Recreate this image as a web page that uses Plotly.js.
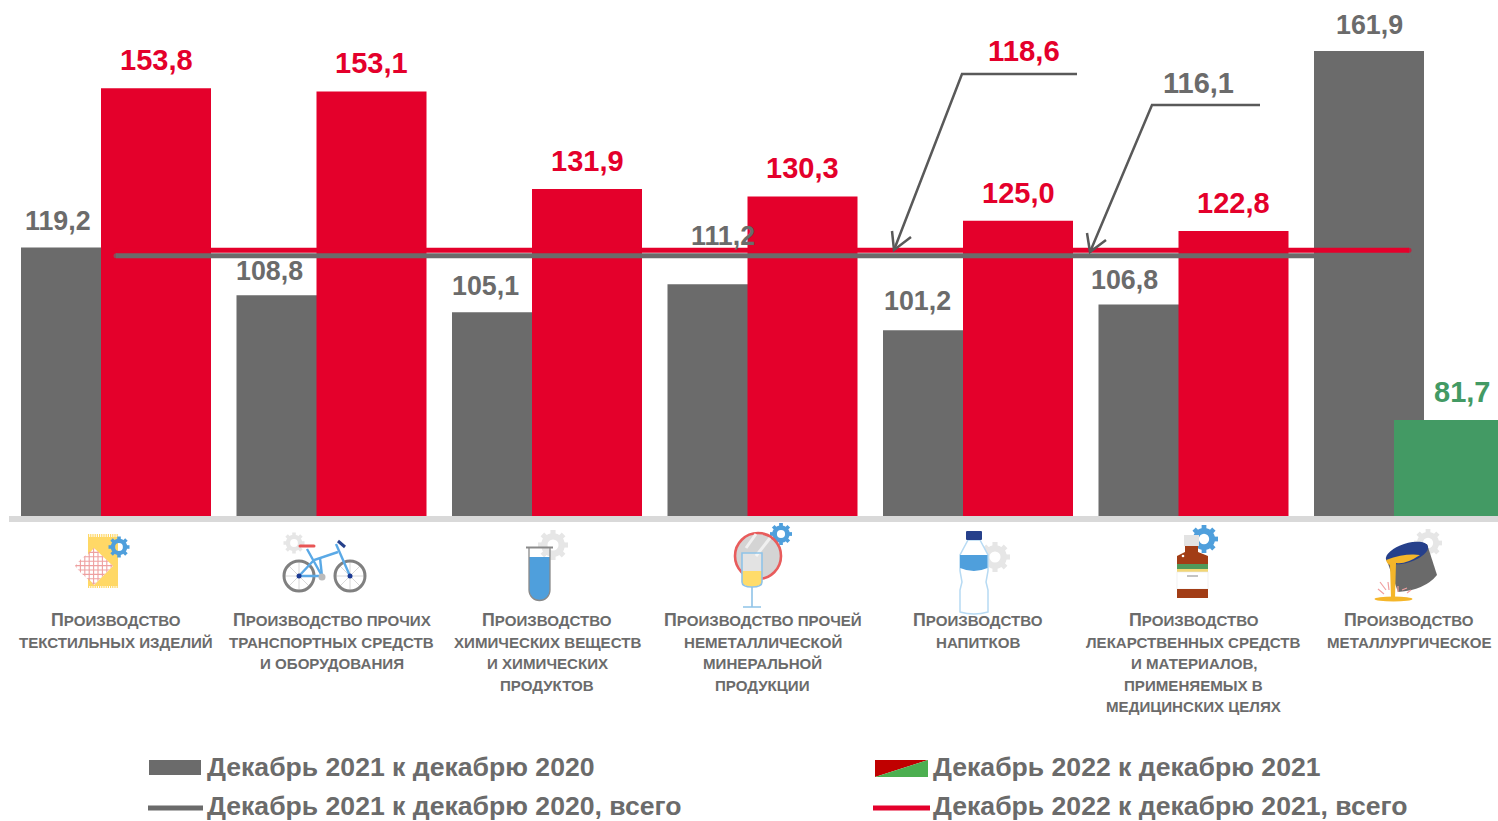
<!DOCTYPE html>
<html><head><meta charset="utf-8">
<script src="https://cdn.plot.ly/plotly-3.0.1.min.js"></script>
<style>html,body{margin:0;padding:0;background:#fff;overflow:hidden}#c{width:1498px;height:821px}</style>
</head><body><div id="c"></div>
<script>
var categoryLines = [
  ["Производство","ТЕКСТИЛЬНЫХ ИЗДЕЛИЙ"],
  ["Производство прочих","ТРАНСПОРТНЫХ СРЕДСТВ","И ОБОРУДОВАНИЯ"],
  ["Производство","ХИМИЧЕСКИХ ВЕЩЕСТВ","И ХИМИЧЕСКИХ","ПРОДУКТОВ"],
  ["Производство прочей","НЕМЕТАЛЛИЧЕСКОЙ","МИНЕРАЛЬНОЙ","ПРОДУКЦИИ"],
  ["Производство","НАПИТКОВ"],
  ["Производство","ЛЕКАРСТВЕННЫХ СРЕДСТВ","И МАТЕРИАЛОВ,","ПРИМЕНЯЕМЫХ В","МЕДИЦИНСКИХ ЦЕЛЯХ"],
  ["Производство","МЕТАЛЛУРГИЧЕСКОЕ"]
];
var categories = [0,1,2,3,4,5,6];
var values2021 = [119.2,108.8,105.1,111.2,101.2,106.8,161.9];
var values2022 = [153.8,153.1,131.9,130.3,125.0,122.8,81.7];
var total2021Label = 116.1, total2022Label = 118.6;
var total2021Drawn = [117.4,117.4,117.4,117.4,117.4,117.4,117.4];
var total2022Drawn = [118.6,118.6,118.6,118.6,118.6,118.6,118.6];
var legendNames = ["Декабрь 2021 к декабрю 2020","Декабрь 2022 к декабрю 2021","Декабрь 2021 к декабрю 2020, всего","Декабрь 2022 к декабрю 2021, всего"];

var GRAY="#6b6b6b", RED="#e4002b", GREEN="#439a64", TXT="#6b6b6b", FONT='"Liberation Sans",Arial,sans-serif';
var W=1498,H=821,BASE=516;
var PX=function(p){return p/W}, PY=function(p){return 1-p/H};
var fmt=function(v){return v.toFixed(1).replace(".",",")};
var capSizes=[5,0,0,0,0,0,5];

var traces=[
 {type:"bar",x:categories,y:values2021,width:110/215.5,offset:-95/215.5,marker:{color:GRAY,line:{width:0}},hoverinfo:"skip",name:legendNames[0]},
 {type:"bar",x:categories,y:values2022,width:110/215.5,offset:-15/215.5,
  marker:{color:values2022.map(function(v){return v<100?GREEN:RED}),line:{width:0}},hoverinfo:"skip",name:legendNames[1]},
 {type:"scatter",mode:"lines+markers",x:categories,y:total2022Drawn,line:{color:RED,width:5},marker:{size:capSizes,color:RED,line:{width:0}},hoverinfo:"skip",name:legendNames[3]},
 {type:"scatter",mode:"lines+markers",x:categories,y:total2021Drawn,line:{color:GRAY,width:5},marker:{size:capSizes,color:GRAY,line:{width:0}},hoverinfo:"skip",name:legendNames[2]}
];

var ann=[];
function label(x,y,t,c,s,xs,ys){ann.push({xref:"x",yref:"y",x:x,y:y,text:"<b>"+t+"</b>",showarrow:false,xanchor:"center",yanchor:"middle",xshift:xs,yshift:ys,borderpad:0,font:{family:FONT,size:s,color:c}});}
var grayShiftX=[-58,-62,-62,-40,-61,-69,-40];
var grayShiftY=[27,24,26,48,29,25,26];
categories.forEach(function(c,i){
  label(c,values2021[i],fmt(values2021[i]),TXT,26.8,grayShiftX[i],grayShiftY[i]);
  label(c,values2022[i],fmt(values2022[i]),values2022[i]<100?GREEN:RED,29,i==6?53:40,i==1?29:28);
});
function pxText(x,y,t,c,s,anchor){ann.push({xref:"paper",yref:"paper",x:PX(x),y:PY(y),text:t,showarrow:false,xanchor:anchor||"center",yanchor:"middle",borderpad:0,font:{family:FONT,size:s,color:c}});}
pxText(1024,51,"<b>"+fmt(total2022Label)+"</b>",RED,29.3);
pxText(1198,83,"<b>"+fmt(total2021Label)+"</b>",TXT,29);
var lineY=[620,642,663,685,706];
categoryLines.forEach(function(lines,i){
  lines.forEach(function(l,j){
    var t=j==0?'<span style="font-size:17.8px">П</span>'+l.slice(1).toUpperCase():l;
    ann.push({xref:"x",yref:"paper",x:categories[i],y:PY(lineY[j]),text:"<b>"+t+"</b>",showarrow:false,xanchor:"center",yanchor:"middle",borderpad:0,font:{family:FONT,size:15.1,color:TXT}});
  });
});
pxText(206,767,"<b>"+legendNames[0]+"</b>",TXT,26.6,"left");
pxText(932,767,"<b>"+legendNames[1]+"</b>",TXT,26.6,"left");
pxText(206,806,"<b>"+legendNames[2]+"</b>",TXT,26.6,"left");
pxText(932,806,"<b>"+legendNames[3]+"</b>",TXT,26.6,"left");

function pathShape(pts,color,w,fill){
  var d=pts.map(function(p,i){return (i?"L":"M")+PX(p[0])+","+PY(p[1])}).join(" ");
  var s={type:"path",xref:"paper",yref:"paper",path:d+(fill?" Z":""),line:{color:color,width:w},layer:"above"};
  if(fill){s.fillcolor=fill;}
  return s;
}
var shapes=[
 {type:"rect",xref:"paper",yref:"paper",x0:PX(9),x1:1,y0:PY(522),y1:PY(BASE),fillcolor:"#d9d9d9",line:{width:0},layer:"below"},
 pathShape([[1077,74],[962,74],[894,250]],"#595959",2.5),
 pathShape([[892,231],[894,250],[911,237]],"#595959",2.5),
 pathShape([[1260,105],[1152,105],[1090,252]],"#595959",2.5),
 pathShape([[1087,233],[1090,252],[1106,240]],"#595959",2.5),
 pathShape([[149,760],[201,760],[201,775],[149,775]],"rgba(0,0,0,0)",0,GRAY),
 pathShape([[875,760],[928,760],[875,777]],"rgba(0,0,0,0)",0,"#c00000"),
 pathShape([[928,760],[928,777],[875,777]],"rgba(0,0,0,0)",0,"#4caf50"),
 {type:"rect",xref:"paper",yref:"paper",x0:PX(148),x1:PX(203),y0:PY(810.5),y1:PY(805.5),fillcolor:GRAY,line:{width:0},layer:"above"},
 {type:"rect",xref:"paper",yref:"paper",x0:PX(873),x1:PX(930),y0:PY(810.5),y1:PY(805.5),fillcolor:RED,line:{width:0},layer:"above"}
];

/* icons: inline vector art */
function gear(cx,cy,R,c){
  var n=8,t="";
  for(var i=0;i<n;i++){t+='<rect x="'+(cx-R*0.17)+'" y="'+(cy-R)+'" width="'+(R*0.34)+'" height="'+(R*0.4)+'" fill="'+c+'" transform="rotate('+(i*360/n)+' '+cx+' '+cy+')"/>';}
  return t+'<circle cx="'+cx+'" cy="'+cy+'" r="'+(R*0.58)+'" fill="none" stroke="'+c+'" stroke-width="'+(R*0.42)+'"/>';
}
var BLUEG="#4f9fdc", GRAYG="#e6e6e6";
function fringe(x0,x1,y,c){var s="";for(var x=x0;x<x1;x+=2.2){s+='<rect x="'+x+'" y="'+y+'" width="1.2" height="3" fill="'+c+'"/>';}return s;}
function grid(){var s="";for(var x=76;x<114;x+=4.4){s+='<line x1="'+x+'" x2="'+x+'" y1="545" y2="588"/>';}for(var y=548;y<588;y+=4.4){s+='<line y1="'+y+'" y2="'+y+'" x1="74" x2="115"/>';}return s;}
function spokes(cx,cy,r){var s="";for(var a=0;a<8;a++){var q=a*Math.PI/4;s+='<line x1="'+cx+'" y1="'+cy+'" x2="'+(cx+r*Math.cos(q))+'" y2="'+(cy+r*Math.sin(q))+'" stroke="#d8d8d8" stroke-width="1"/>';}return s;}
var icons=[
 [70,528,65,65,'<rect x="88" y="537" width="30" height="49" fill="#ffd866"/>'+fringe(88,118,534,"#ffd866")+fringe(88,118,585,"#ffd866")+
   '<clipPath id="d"><path d="M75 566 L80 560 L94 548 L113 566 L94 585 L80 572Z"/></clipPath><path d="M78 566 L94 548 L113 566 L94 585Z" fill="#fff"/><g clip-path="url(#d)" stroke="#eea0a0" stroke-width="1.1">'+grid()+'</g>'+gear(119,547,10.5,BLUEG)],
 [278,528,95,70,gear(294,543,10.5,GRAYG)+spokes(299,576,15)+spokes(350,576,15)+
   '<circle cx="299" cy="576" r="15" fill="none" stroke="#808080" stroke-width="3"/><circle cx="350" cy="576" r="15" fill="none" stroke="#808080" stroke-width="3"/>'+
   '<g stroke="#5aa9e6" stroke-width="2.4" fill="none"><path d="M299 576H322L307 549"/><path d="M299 576L314 560L338 552"/><path d="M350 576L336 544"/><path d="M320 558L322 576"/></g>'+
   '<circle cx="322" cy="577" r="3.5" fill="#bbb"/><path d="M300 546H314" stroke="#e85555" stroke-width="3" stroke-linecap="round"/><path d="M338 541L345 547" stroke="#27408b" stroke-width="3"/><circle cx="299" cy="576" r="2.5" fill="#1f3a93"/><circle cx="350" cy="576" r="2.5" fill="#1f3a93"/>'],
 [520,528,60,76,gear(553,545,15,GRAYG)+'<path d="M529 557H550V590A10.5 10.5 0 0 1 529 590Z" fill="#4f9fdc"/><path d="M529 547V590A10.5 10.5 0 0 0 550 590V547" fill="none" stroke="#8a8a8a" stroke-width="1.3"/><path d="M526 547.5H553" stroke="#8a8a8a" stroke-width="2"/>'],
 [730,522,65,88,gear(781,534,11,BLUEG)+'<circle cx="758" cy="556" r="23" fill="#d4d4d4" stroke="#e85c5c" stroke-width="2.6"/><path d="M746 548L756 534M756 556L770 538" stroke="#f0f0f0" stroke-width="3"/>'+
   '<path d="M742 553H762V587H742Z" fill="#fff" fill-opacity=".35"/><path d="M742 571H762V584Q752 590 742 584Z" fill="#ffdc6b"/><path d="M742 553H762V582Q762 587 752 587Q742 587 742 582Z" fill="none" stroke="#8fc3e8" stroke-width="1.6"/><path d="M752 587V607M743 607H761" stroke="#8fc3e8" stroke-width="1.6"/>'],
 [955,528,58,90,gear(995,557,15,GRAYG)+'<path d="M968 540H980L988 555V571L986 582L988 590V612Q974 616 960 612V590L962 582L960 571V555Z" fill="#fff" stroke="#b7daf3" stroke-width="1.5"/><path d="M960 555H987.5V568Q974 574 960 568Z" fill="#4f9fdc"/><rect x="966" y="531" width="16" height="9" rx="1" fill="#27408b"/>'],
 [1170,525,52,76,gear(1204,539,14,BLUEG)+'<rect x="1184" y="535" width="15" height="11" fill="#e3e3e3"/><path d="M1185 546H1198V552L1208 556V564H1177V556L1185 552Z" fill="#a23c12"/><circle cx="1183" cy="556" r="1.3" fill="#fff"/><rect x="1177" y="564" width="31" height="5" fill="#4f9a5a"/><rect x="1177" y="569" width="31" height="3" fill="#f2d675"/><rect x="1177" y="572" width="31" height="17" fill="#fff" stroke="#e8e8e8" stroke-width=".6"/><path d="M1187 576H1198" stroke="#aaa" stroke-width="1.4"/><rect x="1177" y="589" width="31" height="9" fill="#a23c12"/>'],
 [1370,525,78,80,gear(1428,543,14,GRAYG)+'<path d="M1386 558L1427 544L1437 575Q1425 590 1398 592Z" fill="#6a6a6a"/><ellipse cx="1407" cy="553" rx="22" ry="9.5" transform="rotate(-18 1407 553)" fill="#27408b"/>'+
   '<path d="M1386 560Q1405 553 1420 555Q1405 565 1396 563L1395 598H1391L1390 565Q1387 564 1386 560Z" fill="#f5b62a"/><ellipse cx="1393.5" cy="599" rx="19" ry="2.6" fill="#f5b62a"/>'+
   '<g stroke="#f0a0a0" stroke-width="1.2"><path d="M1378 589L1384 594M1380 582L1386 590M1388 582L1389 590M1398 586L1398 592M1402 590L1407 588M1407 593L1411 590"/></g>']
];
var images=icons.map(function(ic){
  var svg='<svg xmlns="http://www.w3.org/2000/svg" width="'+ic[2]*3+'" height="'+ic[3]*3+'" viewBox="'+ic[0]+' '+ic[1]+' '+ic[2]+' '+ic[3]+'"><filter id="b"><feGaussianBlur stdDeviation="0.35"/></filter><g filter="url(#b)">'+ic[4]+'</g></svg>';
  return {source:"data:image/svg+xml;charset=utf-8,"+encodeURIComponent(svg),xref:"paper",yref:"paper",x:PX(ic[0]),y:PY(ic[1]),sizex:ic[2]/W,sizey:ic[3]/H,xanchor:"left",yanchor:"top",sizing:"stretch",layer:"above"};
});

var layout={
 width:W,height:H,margin:{l:0,r:0,t:0,b:0,pad:0},paper_bgcolor:"#fff",plot_bgcolor:"#fff",showlegend:false,
 barmode:"overlay",
 xaxis:{type:"linear",range:[-116/215.5,(W-116)/215.5],showgrid:false,zeroline:false,showline:false,showticklabels:false,ticks:"",fixedrange:true},
 yaxis:{domain:[1-BASE/H,1],range:[60.83,60.83+BASE/4.6],showgrid:false,zeroline:false,showline:false,showticklabels:false,ticks:"",fixedrange:true},
 annotations:ann,shapes:shapes,images:images,
 font:{family:FONT}
};
Plotly.newPlot("c",traces,layout,{displayModeBar:false,staticPlot:true});
</script></body></html>
